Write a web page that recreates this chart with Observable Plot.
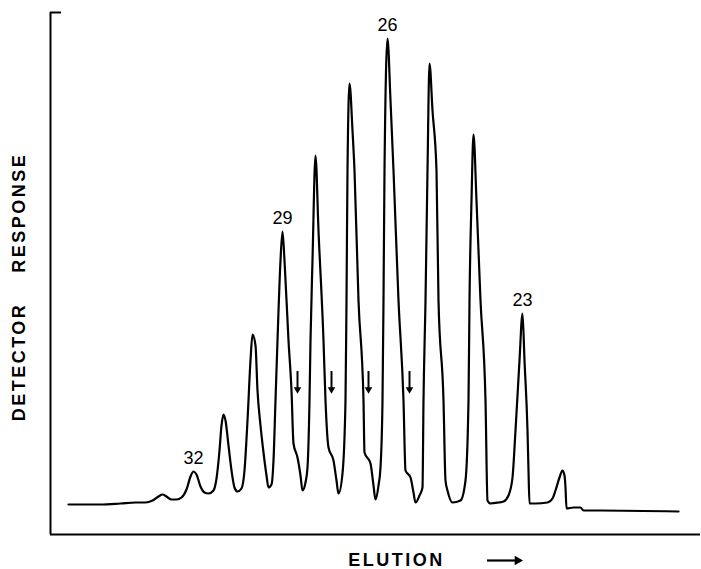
<!DOCTYPE html>
<html><head><meta charset="utf-8">
<script src="https://cdn.jsdelivr.net/npm/d3@7"></script>
<script src="https://cdn.jsdelivr.net/npm/@observablehq/plot@0.6"></script>
<style>html,body{margin:0;padding:0;background:#fff;overflow:hidden}</style>
</head><body><div id="chart"></div>
<script>
// Chromatogram trace (elution position, detector response), arbitrary units
const elution = [18,50,70,85,95,102,108,112,116,121,126,131,136,140,143,146,150,154,158,163,166,169,171,173,175,178,181,184,187,191,194,197,200,202,205,207,210,213,216,218,221,223,225,227,230,232,234,238,241,243,247,250,252,255,257,259,260,262,265,268,273,275,278,283,286,288,292,295,296,297,299,302,304,308,313,314,320,323,325,328,330,332,333,334,337,340,343,348,353,355,360,363,365,369,372,373,375,377,379,382,386,388,393,395,397,402,410,415,418,419,421,423,426,430,435,437,440,448,453,458,462,465,469,472,474,477,478,479,485,497,502,505,509,512,514,515,516,523,530,533,550,628];
const response = [30,30,31,32,32,34,38,40,38,35,35,37,45,58,63,60,48,42,41,44,56,84,109,120,114,89,64,47,43,46,64,114,174,200,189,144,109,82,59,47,50,74,134,194,274,303,274,194,144,91,77,59,44,52,67,134,194,274,379,304,194,134,87,74,54,41,61,134,234,364,451,404,364,234,134,82,71,49,35,49,67,134,234,364,496,434,364,234,134,64,57,42,32,39,47,134,234,364,471,424,364,234,134,54,44,32,34,54,134,234,334,400,334,234,134,34,31,32,33,39,57,104,174,221,174,104,64,31,31,32,36,44,57,64,59,47,26,27,27,24,24,23];

// Labelled peaks (carbon number)
const peakCarbon = [32, 29, 26, 23];
const peakElution = [143, 232, 337, 472];
const peakResponse = [63, 303, 496, 221];

// Shoulder markers (downward arrows)
const shoulderElution = [247, 281, 318, 359];
const shoulderFrom = 163;
const shoulderTo = 145;

// Elution-direction arrow
const elutionArrowStart = 437;
const elutionArrowEnd = 467;
const elutionArrowLevel = -26;

const axisTitles = ["DETECTOR\u00a0\u00a0\u00a0\u00a0RESPONSE", "ELUTION"];

const trace = elution.map((x, i) => ({x, y: response[i]}));
const peaks = peakCarbon.map((c, i) => ({c, x: peakElution[i], y: peakResponse[i]}));

const chart = Plot.plot({
  width: 701, height: 569,
  marginLeft: 50, marginRight: 1, marginTop: 12, marginBottom: 35,
  x: {domain: [0, 650], axis: null},
  y: {domain: [0, 522], axis: null},
  style: {background: "#fff", fontFamily: "'Liberation Sans', Arial, sans-serif", color: "#000"},
  marks: [
    Plot.ruleX([0], {stroke: "#000", strokeWidth: 2}),
    Plot.ruleY([0], {stroke: "#000", strokeWidth: 2}),
    Plot.axisY({ticks: [522], tickSize: -11, tickFormat: () => "", label: null, stroke: "#000", strokeWidth: 2}),
    Plot.line(trace, {x: "x", y: "y", curve: "monotone-x", stroke: "#000", strokeWidth: 2.2, strokeLinejoin: "round", strokeLinecap: "round"}),
    Plot.text(peaks, {x: "x", y: "y", text: "c", dy: -13, fontSize: 18, fill: "#000"}),
    Plot.ruleX(shoulderElution, {x: d => d, y1: shoulderFrom, y2: shoulderTo, stroke: "#000", strokeWidth: 2}),
    Plot.dot(shoulderElution, {x: d => d, y: shoulderTo, symbol: "triangle", rotate: 180, r: 2.8, fill: "#000", stroke: "none"}),
    Plot.ruleY([elutionArrowLevel], {y: d => d, x1: elutionArrowStart, x2: elutionArrowEnd, stroke: "#000", strokeWidth: 2.2}),
    Plot.dot([elutionArrowLevel], {x: elutionArrowEnd, y: d => d, symbol: "triangle", rotate: 90, r: 3.6, fill: "#000", stroke: "none"}),
    Plot.text([axisTitles[0]], {text: d => d, frameAnchor: "left", textAnchor: "middle", lineAnchor: "middle", rotate: -90, dx: -31, dy: 13.5, fontSize: 18, fontWeight: "bold", fill: "#000"}),
    Plot.text([axisTitles[1]], {text: d => d, frameAnchor: "bottom", textAnchor: "middle", lineAnchor: "middle", dx: 21, dy: 26, fontSize: 18, fontWeight: "bold", fill: "#000"})
  ]
});
d3.select(chart).selectAll("text")
  .filter(function() { return axisTitles.includes(this.textContent); })
  .attr("letter-spacing", "2.5px");
document.getElementById("chart").appendChild(chart);
</script>
</body></html>
